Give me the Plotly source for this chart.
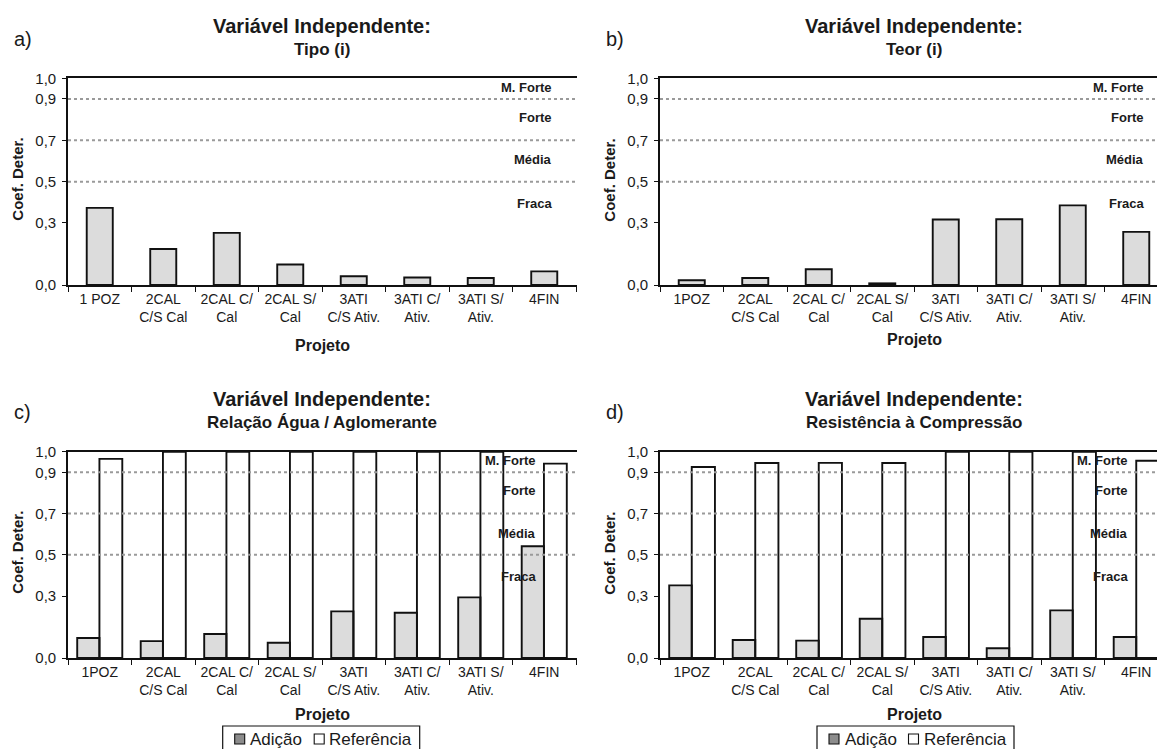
import plotly.graph_objects as go

# Projects on the horizontal axis
projetos_a = ["1 POZ", "2CAL<br>C/S Cal", "2CAL C/<br>Cal", "2CAL S/<br>Cal",
              "3ATI<br>C/S Ativ.", "3ATI C/<br>Ativ.", "3ATI S/<br>Ativ.", "4FIN"]
projetos = ["1POZ", "2CAL<br>C/S Cal", "2CAL C/<br>Cal", "2CAL S/<br>Cal",
            "3ATI<br>C/S Ativ.", "3ATI C/<br>Ativ.", "3ATI S/<br>Ativ.", "4FIN"]

# Coefficient of determination per independent variable
tipo = [0.373, 0.174, 0.252, 0.099, 0.042, 0.036, 0.034, 0.066]
teor = [0.023, 0.034, 0.076, 0.008, 0.317, 0.318, 0.385, 0.257]
agua_adicao = [0.097, 0.082, 0.116, 0.074, 0.226, 0.219, 0.294, 0.542]
agua_referencia = [0.965, 1.0, 1.0, 1.0, 1.0, 1.0, 1.0, 0.942]
resist_adicao = [0.352, 0.087, 0.084, 0.190, 0.102, 0.047, 0.231, 0.102]
resist_referencia = [0.926, 0.945, 0.946, 0.945, 1.0, 1.0, 1.0, 0.956]

# Axis ticks and correlation strength bands
y_ticks = [0.0, 0.3, 0.5, 0.7, 0.9, 1.0]
y_ticktext = ["0,0", "0,3", "0,5", "0,7", "0,9", "1,0"]
band_limits = [0.5, 0.7, 0.9]
band_names = ["M. Forte", "Forte", "Média", "Fraca"]
serie_nomes = ["Adição", "Referência"]

W, H = 1157, 749
FONT = "Liberation Sans, Arial, sans-serif"
TXT = "#1a1a1a"
FILL = "#dcdcdc"

def px(x):
    return x / W

def py(y):
    return 1 - y / H

# panel geometry in pixels: (left, right, top, bottom, projeto offset)
panels = {
    "a": (68, 577, 78.3, 285.0, 60),
    "b": (660, 1157, 78.3, 285.0, 54),
    "c": (68, 577, 451.7, 658.0, 56),
    "d": (660, 1157, 451.7, 658.0, 56),
}
cat_w = 63.5

fig = go.Figure()

def add_bar(values, cats, ax, color, width, offset, name):
    fig.add_trace(go.Bar(
        x=cats, y=values, name=name, showlegend=False,
        marker=dict(color=color, line=dict(color="#111", width=1.9)),
        width=width, offset=offset, xaxis="x" + ax, yaxis="y" + ax,
        hoverinfo="y",
    ))

add_bar(tipo, projetos_a, "", FILL, 0.41, -0.205, "Tipo")
add_bar(teor, projetos, "2", FILL, 0.41, -0.205, "Teor")
add_bar(agua_adicao, projetos, "3", FILL, 0.35, -0.355, serie_nomes[0])
add_bar(agua_referencia, projetos, "3", "rgba(255,255,255,0)", 0.36, -0.005, serie_nomes[1])
add_bar(resist_adicao, projetos, "4", FILL, 0.355, -0.355, serie_nomes[0])
add_bar(resist_referencia, projetos, "4", "rgba(255,255,255,0)", 0.365, 0.0, serie_nomes[1])

axis_names = {"a": ("xaxis", "yaxis", "x", "y"), "b": ("xaxis2", "yaxis2", "x2", "y2"),
              "c": ("xaxis3", "yaxis3", "x3", "y3"), "d": ("xaxis4", "yaxis4", "x4", "y4")}

layout = dict(
    width=W, height=H, margin=dict(l=0, r=0, t=0, b=0, autoexpand=False),
    paper_bgcolor="white", plot_bgcolor="white", barmode="overlay",
    showlegend=False, font=dict(family=FONT, color=TXT),
)
shapes = []
annotations = []

titles = {
    "a": ("a)", "Tipo (i)"),
    "b": ("b)", "Teor (i)"),
    "c": ("c)", "Relação Água / Aglomerante"),
    "d": ("d)", "Resistência à Compressão"),
}
band_y = [0.955, 0.81, 0.605, 0.395]

for key, (l, r, t, b, proj_off) in panels.items():
    xa, ya, xr, yr = axis_names[key]
    ncat = (r - l) / cat_w
    layout[xa] = dict(
        domain=[px(l), px(r)], anchor=yr, type="category",
        range=[-0.5, -0.5 + ncat], showline=True, linecolor="#111", linewidth=1.6,
        mirror=True, ticks="outside", tickson="boundaries", ticklen=5,
        tickcolor="#111", tickwidth=1.3, showgrid=False,
        tickfont=dict(size=14, family=FONT, color=TXT), fixedrange=True,
    )
    layout[ya] = dict(
        domain=[py(b), py(t)], anchor=xr, range=[0, 1.0],
        tickvals=y_ticks, ticktext=y_ticktext, showline=True, linecolor="#111",
        linewidth=1.6, ticks="outside", ticklen=4, tickcolor="#111",
        showgrid=False, zeroline=False, ticklabelstandoff=3,
        tickfont=dict(size=15, family=FONT, color=TXT), fixedrange=True,
    )
    for lvl in band_limits:
        shapes.append(dict(type="line", xref=xr + " domain", yref=yr,
                           x0=0, x1=1, y0=lvl, y1=lvl, layer="above",
                           line=dict(color="#9a9a9a", width=2, dash="dot")))
    name_x = 7.15 if key in ("a", "b") else 6.9
    for nm, yv in zip(band_names, band_y):
        annotations.append(dict(text="<b>" + nm + "</b>", x=name_x, y=yv, xref=xr, yref=yr,
                                xanchor="right", yanchor="middle", showarrow=False,
                                font=dict(size=13, family=FONT, color=TXT)))
    letter, sub = titles[key]
    cx = (l + l + 8 * cat_w) / 2
    label_y = 39 if key in ("a", "b") else 412
    annotations.append(dict(text=letter, x=px(l - 56), y=py(label_y), xref="paper", yref="paper",
                            xanchor="left", yanchor="middle", showarrow=False,
                            font=dict(size=20, family=FONT, color=TXT)))
    annotations.append(dict(text="<b>Variável Independente:</b>", x=px(cx), y=py(label_y - 13),
                            xref="paper", yref="paper", xanchor="center", yanchor="middle",
                            showarrow=False, font=dict(size=20, family=FONT, color=TXT)))
    annotations.append(dict(text="<b>" + sub + "</b>", x=px(cx), y=py(label_y + 10),
                            xref="paper", yref="paper", xanchor="center", yanchor="middle",
                            showarrow=False, font=dict(size=17, family=FONT, color=TXT)))
    annotations.append(dict(text="<b>Coef. Deter.</b>", x=px(l - 50), y=py((t + b) / 2 - 2),
                            xref="paper", yref="paper", xanchor="center", yanchor="middle",
                            textangle=-90, showarrow=False,
                            font=dict(size=15, family=FONT, color=TXT)))
    annotations.append(dict(text="<b>Projeto</b>", x=px(cx), y=py(b + proj_off),
                            xref="paper", yref="paper", xanchor="center", yanchor="middle",
                            showarrow=False, font=dict(size=16, family=FONT, color=TXT)))

# series key boxes under the lower panels
for box_left in (222.7, 817.0):
    shapes.append(dict(type="rect", xref="paper", yref="paper",
                       x0=px(box_left), x1=px(box_left + 197), y0=py(760), y1=py(726),
                       line=dict(color="#111", width=1.2), fillcolor="white", layer="above"))
    for (sw_off, txt_off), nome, cor in zip([(12.0, 25.5), (91.5, 104.5)], serie_nomes,
                                            ["#8c8c8c", "white"]):
        shapes.append(dict(type="rect", xref="paper", yref="paper",
                           x0=px(box_left + sw_off), x1=px(box_left + sw_off + 10),
                           y0=py(744), y1=py(734), fillcolor=cor,
                           line=dict(color="#111", width=1.1), layer="above"))
        annotations.append(dict(text=nome, x=px(box_left + txt_off), y=py(739),
                                xref="paper", yref="paper", xanchor="left", yanchor="middle",
                                showarrow=False, font=dict(size=17, family=FONT, color=TXT)))

layout["shapes"] = shapes
layout["annotations"] = annotations

fig.update_layout(**layout)
fig.write_html("out.html")
